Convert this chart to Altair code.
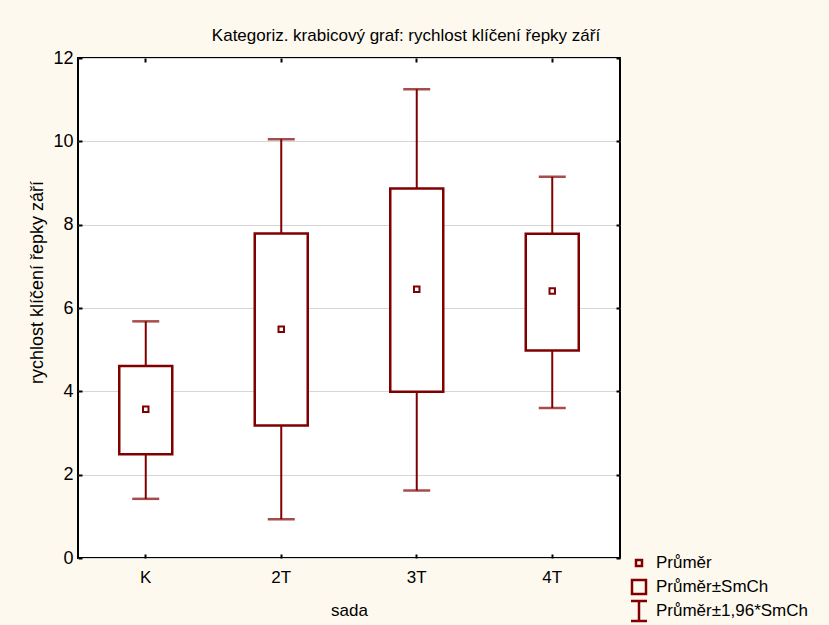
import altair as alt
import pandas as pd

# Categories and summary statistics per group
sada = ["K", "2T", "3T", "4T"]
prumer = [3.57, 5.49, 6.45, 6.41]
smch_dolni = [2.49, 3.18, 3.99, 4.98]
smch_horni = [4.61, 7.79, 8.87, 7.78]
ci_dolni = [1.42, 0.93, 1.62, 3.60]
ci_horni = [5.68, 10.05, 11.25, 9.15]

y_ticks = [0, 2, 4, 6, 8, 10, 12]

# Legend entries and their glyphs (unit-square SVG paths)
legenda = ["Průměr", "Průměr±SmCh", "Průměr±1,96*SmCh"]
legenda_tvary = [
    "M-0.375,-0.375H0.375V0.375H-0.375Z",
    "M-0.875,-0.875H0.875V0.875H-0.875Z",
    "M-1,-1.25H1M0,-1.25V1.25M-1,1.25H1",
]

df = pd.DataFrame({
    "sada": sada,
    "prumer": prumer,
    "smch_dolni": smch_dolni,
    "smch_horni": smch_horni,
    "ci_dolni": ci_dolni,
    "ci_horni": ci_horni,
})
leg_df = pd.DataFrame({"polozka": legenda, "poradi": list(range(len(legenda)))})

CERVENA = "#800000"
FONT = "Liberation Sans"

x_scale = alt.Scale(type="band", domain=sada, paddingInner=0, paddingOuter=0)
y_scale = alt.Scale(domain=[0, 12], nice=False, zero=True)


def x_enc(axis=None):
    return alt.X("sada:N", scale=x_scale, sort=sada, axis=axis)


def y_enc(field, axis=None):
    return alt.Y(field, scale=y_scale, axis=axis)


def inner_ticks(orient, values=None):
    kw = dict(orient=orient, offset=-4, domain=False, labels=False, ticks=True,
              tickSize=4, tickWidth=2, tickColor="black", grid=False, title=None)
    if values is not None:
        kw["values"] = values
    else:
        kw["bandPosition"] = 0.5
    return alt.Axis(**kw)


base = alt.Chart(df)

# labelled axes + horizontal grid
axes_main = base.mark_point(opacity=0).encode(
    x=x_enc(alt.Axis(orient="bottom", title="sada", domain=False, ticks=False,
                     labelPadding=11, labelFontSize=17, labelAngle=0,
                     titleFontSize=17, titleFontWeight="normal",
                     titleY=52, titleBaseline="middle", bandPosition=0.5)),
    y=y_enc("prumer:Q", alt.Axis(orient="left", title="rychlost klíčení řepky září",
                                  values=y_ticks, domain=False, ticks=False,
                                  grid=True, gridColor="#d6d6d6", gridWidth=1,
                                  labelPadding=5, labelFontSize=18,
                                  titleFontSize=18, titleFontWeight="normal",
                                  titleX=-41, titleY=224, titleAngle=270,
                                  titleAlign="center", titleBaseline="middle")),
)

# inward tick marks on all four sides of the frame
axes_in1 = base.mark_point(opacity=0).encode(
    x=x_enc(inner_ticks("bottom")),
    y=y_enc("prumer:Q", inner_ticks("left", y_ticks)),
)
axes_in2 = base.mark_point(opacity=0).encode(
    x=x_enc(inner_ticks("top")),
    y=y_enc("prumer:Q", inner_ticks("right", y_ticks)),
)

whiskers = base.mark_rule(color=CERVENA, strokeWidth=2).encode(
    x=x_enc(), y=y_enc("ci_dolni:Q"), y2="ci_horni:Q"
)

caps = base.transform_fold(["ci_dolni", "ci_horni"], as_=["mez", "hodnota"]).mark_tick(
    color=CERVENA, size=27, thickness=2.5
).encode(x=x_enc(), y=y_enc("hodnota:Q"))

boxes = base.mark_bar(size=53, fill="white", stroke=CERVENA, strokeWidth=2.5).encode(
    x=x_enc(), y=y_enc("smch_dolni:Q"), y2="smch_horni:Q"
)

means = base.mark_point(shape="square", filled=False, size=30, color=CERVENA,
                        strokeWidth=2, opacity=1).encode(
    x=x_enc(), y=y_enc("prumer:Q")
)

# legend below-right of the frame: its own row scale
leg_rows = alt.Scale(domain=[0, len(legenda) - 1], range=[505, 553], nice=False, zero=False)
leg_base = alt.Chart(leg_df)

leg_symbols = leg_base.mark_point(filled=False, color=CERVENA, strokeWidth=2.5,
                                  size=256, opacity=1).encode(
    x=alt.value(561),
    y=alt.Y("poradi:Q", scale=leg_rows, axis=None),
    shape=alt.Shape("polozka:N", scale=alt.Scale(domain=legenda, range=legenda_tvary),
                    legend=None),
)

leg_labels = leg_base.mark_text(align="left", baseline="middle", font=FONT,
                                fontSize=17, color="black").encode(
    x=alt.value(578),
    y=alt.Y("poradi:Q", scale=leg_rows, axis=None),
    text="polozka:N",
)

chart = alt.layer(
    axes_main, axes_in1, axes_in2, whiskers, caps, boxes, means,
    leg_symbols, leg_labels
).resolve_scale(
    y="independent"
).resolve_axis(
    x="independent", y="independent"
).properties(
    width=542,
    height=500,
    title=alt.TitleParams(
        "Kategoriz. krabicový graf: rychlost klíčení řepky září",
        fontSize=17, fontWeight="normal", anchor="middle", frame="group",
        dx=57, offset=4,
    ),
    background="#fef9ee",
    padding={"left": 78, "top": 58, "right": 209, "bottom": 67},
    autosize=alt.AutoSizeParams(type="none"),
).configure_view(
    stroke="black", strokeWidth=2, fill="white"
).configure_axis(
    labelFont=FONT, titleFont=FONT, labelColor="black", titleColor="black"
).configure_title(
    font=FONT, color="black"
)

chart.save("out.html", embed_options={"renderer": "svg", "actions": False})
